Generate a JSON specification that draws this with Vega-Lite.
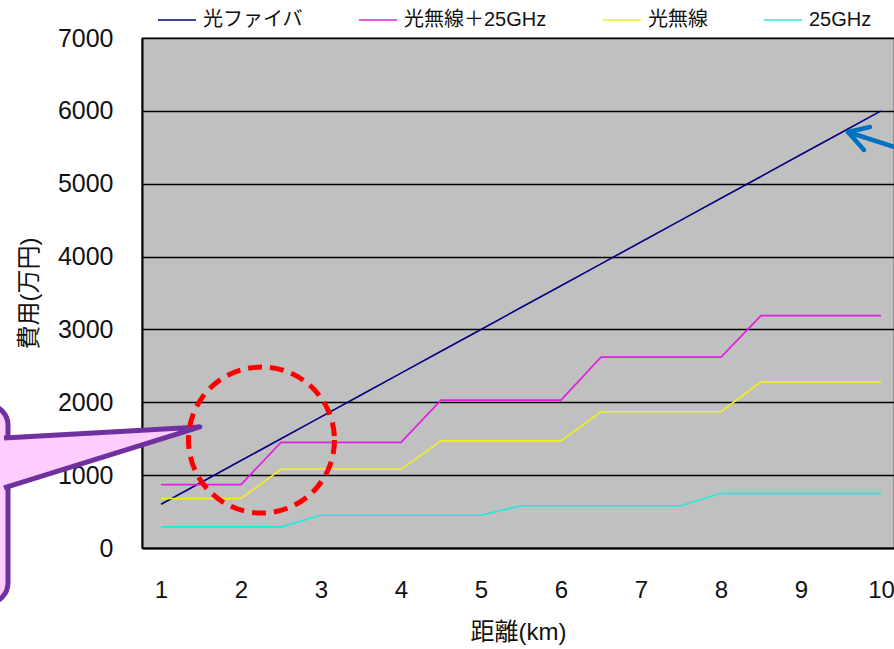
{
  "$schema": "https://vega.github.io/schema/vega-lite/v6.json",
  "width": 752,
  "height": 510,
  "autosize": {"type": "none"},
  "padding": {"left": 142, "top": 38, "right": 0, "bottom": 101},
  "background": "white",
  "config": {
    "view": {"fill": "#C0C0C0", "stroke": "#808080", "strokeWidth": 1.5},
    "font": "Liberation Sans, Noto Sans CJK JP"
  },
  "datasets": {
    "series": [
      {"d": 1, "s": "光ファイバ", "v": 600}, {"d": 1.5, "s": "光ファイバ", "v": 900}, {"d": 2, "s": "光ファイバ", "v": 1200}, {"d": 2.5, "s": "光ファイバ", "v": 1500},
      {"d": 3, "s": "光ファイバ", "v": 1800}, {"d": 3.5, "s": "光ファイバ", "v": 2100}, {"d": 4, "s": "光ファイバ", "v": 2400}, {"d": 4.5, "s": "光ファイバ", "v": 2700},
      {"d": 5, "s": "光ファイバ", "v": 3000}, {"d": 5.5, "s": "光ファイバ", "v": 3300}, {"d": 6, "s": "光ファイバ", "v": 3600}, {"d": 6.5, "s": "光ファイバ", "v": 3900},
      {"d": 7, "s": "光ファイバ", "v": 4200}, {"d": 7.5, "s": "光ファイバ", "v": 4500}, {"d": 8, "s": "光ファイバ", "v": 4800}, {"d": 8.5, "s": "光ファイバ", "v": 5100},
      {"d": 9, "s": "光ファイバ", "v": 5400}, {"d": 9.5, "s": "光ファイバ", "v": 5700}, {"d": 10, "s": "光ファイバ", "v": 6000},
      {"d": 1, "s": "光無線＋25GHz", "v": 870}, {"d": 1.5, "s": "光無線＋25GHz", "v": 870}, {"d": 2, "s": "光無線＋25GHz", "v": 870}, {"d": 2.5, "s": "光無線＋25GHz", "v": 1450},
      {"d": 3, "s": "光無線＋25GHz", "v": 1450}, {"d": 3.5, "s": "光無線＋25GHz", "v": 1450}, {"d": 4, "s": "光無線＋25GHz", "v": 1450}, {"d": 4.5, "s": "光無線＋25GHz", "v": 2030},
      {"d": 5, "s": "光無線＋25GHz", "v": 2030}, {"d": 5.5, "s": "光無線＋25GHz", "v": 2030}, {"d": 6, "s": "光無線＋25GHz", "v": 2030}, {"d": 6.5, "s": "光無線＋25GHz", "v": 2620},
      {"d": 7, "s": "光無線＋25GHz", "v": 2620}, {"d": 7.5, "s": "光無線＋25GHz", "v": 2620}, {"d": 8, "s": "光無線＋25GHz", "v": 2620}, {"d": 8.5, "s": "光無線＋25GHz", "v": 3190},
      {"d": 9, "s": "光無線＋25GHz", "v": 3190}, {"d": 9.5, "s": "光無線＋25GHz", "v": 3190}, {"d": 10, "s": "光無線＋25GHz", "v": 3190},
      {"d": 1, "s": "光無線", "v": 680}, {"d": 1.5, "s": "光無線", "v": 680}, {"d": 2, "s": "光無線", "v": 680}, {"d": 2.5, "s": "光無線", "v": 1080},
      {"d": 3, "s": "光無線", "v": 1080}, {"d": 3.5, "s": "光無線", "v": 1080}, {"d": 4, "s": "光無線", "v": 1080}, {"d": 4.5, "s": "光無線", "v": 1470},
      {"d": 5, "s": "光無線", "v": 1470}, {"d": 5.5, "s": "光無線", "v": 1470}, {"d": 6, "s": "光無線", "v": 1470}, {"d": 6.5, "s": "光無線", "v": 1870},
      {"d": 7, "s": "光無線", "v": 1870}, {"d": 7.5, "s": "光無線", "v": 1870}, {"d": 8, "s": "光無線", "v": 1870}, {"d": 8.5, "s": "光無線", "v": 2280},
      {"d": 9, "s": "光無線", "v": 2280}, {"d": 9.5, "s": "光無線", "v": 2280}, {"d": 10, "s": "光無線", "v": 2280},
      {"d": 1, "s": "25GHz", "v": 290}, {"d": 1.5, "s": "25GHz", "v": 290}, {"d": 2, "s": "25GHz", "v": 290}, {"d": 2.5, "s": "25GHz", "v": 290},
      {"d": 3, "s": "25GHz", "v": 450}, {"d": 3.5, "s": "25GHz", "v": 450}, {"d": 4, "s": "25GHz", "v": 450}, {"d": 4.5, "s": "25GHz", "v": 450},
      {"d": 5, "s": "25GHz", "v": 450}, {"d": 5.5, "s": "25GHz", "v": 580}, {"d": 6, "s": "25GHz", "v": 580}, {"d": 6.5, "s": "25GHz", "v": 580},
      {"d": 7, "s": "25GHz", "v": 580}, {"d": 7.5, "s": "25GHz", "v": 580}, {"d": 8, "s": "25GHz", "v": 750}, {"d": 8.5, "s": "25GHz", "v": 750},
      {"d": 9, "s": "25GHz", "v": 750}, {"d": 9.5, "s": "25GHz", "v": 750}, {"d": 10, "s": "25GHz", "v": 750}
    ],
    "box": [{"x1": -1.6, "x2": -0.9125, "y1": 1960, "y2": -755}],
    "pointer": [
      {"o": 1, "x": -0.9625, "y": 1510},
      {"o": 2, "x": 1.4875, "y": 1661},
      {"o": 3, "x": -0.9625, "y": 824}
    ],
    "circle": [{"x": 2.256, "y": 1482}],
    "arrow": [
      {"g": "head", "o": 1, "x": 9.8625, "y": 5778},
      {"g": "head", "o": 2, "x": 9.5875, "y": 5710},
      {"g": "head", "o": 3, "x": 9.7875, "y": 5463},
      {"g": "shaft", "o": 1, "x": 9.5875, "y": 5710},
      {"g": "shaft", "o": 2, "x": 10.3625, "y": 5435}
    ]
  },
  "layer": [
    {
      "data": {"name": "series"},
      "mark": {"type": "line", "strokeWidth": 1.6},
      "encoding": {
        "x": {
          "field": "d", "type": "quantitative", "title": "距離(km)",
          "scale": {"domain": [0.7625, 10.1625], "nice": false, "zero": false},
          "axis": {
            "values": [1, 2, 3, 4, 5, 6, 7, 8, 9, 10], "format": "d",
            "grid": false, "ticks": false, "tickSize": 0,
            "domainColor": "#000000", "domainWidth": 2,
            "labelFont": "Liberation Sans", "labelFontSize": 24, "labelColor": "#111111",
            "labelPadding": 30, "labelFlush": false, "labelOverlap": false,
            "title": "距離(km)", "titleFont": "Liberation Sans, Noto Sans CJK JP",
            "titleFontSize": 24, "titleFontWeight": "normal", "titleColor": "#111111",
            "titlePadding": 18
          }
        },
        "y": {
          "field": "v", "type": "quantitative", "title": "費用(万円)",
          "scale": {"domain": [0, 7000], "nice": false},
          "axis": {
            "values": [0, 1000, 2000, 3000, 4000, 5000, 6000, 7000], "format": "d",
            "grid": true, "gridColor": "#000000", "gridWidth": 1.5,
            "ticks": false, "tickSize": 0,
            "domainColor": "#000000", "domainWidth": 2,
            "labelFont": "Liberation Sans", "labelFontSize": 25, "labelColor": "#111111",
            "labelPadding": 29,
            "title": "費用(万円)", "titleFont": "Liberation Sans, Noto Sans CJK JP",
            "titleFontSize": 24, "titleFontWeight": "normal", "titleColor": "#111111",
            "titlePadding": 16
          }
        },
        "color": {
          "field": "s", "type": "nominal",
          "scale": {
            "domain": ["光ファイバ", "光無線＋25GHz", "光無線", "25GHz"],
            "range": ["#000080", "#E020E0", "#F0F020", "#20E8E0"]
          },
          "legend": {
            "orient": "none", "legendX": 15, "legendY": -38,
            "direction": "horizontal", "title": null,
            "symbolType": "stroke", "symbolSize": 1444, "symbolStrokeWidth": 1.6,
            "labelFont": "Liberation Sans, Noto Sans CJK JP", "labelFontSize": 20,
            "labelColor": "#111111", "labelOffset": 6, "columnPadding": 52, "labelLimit": 300
          }
        }
      }
    },
    {
      "data": {"name": "box"},
      "mark": {"type": "rect", "fill": "#FFCCFF", "stroke": "#7030A0", "strokeWidth": 5, "cornerRadius": 20},
      "encoding": {
        "x": {"field": "x1", "type": "quantitative", "title": "距離(km)"},
        "x2": {"field": "x2"},
        "y": {"field": "y1", "type": "quantitative", "title": "費用(万円)"},
        "y2": {"field": "y2"}
      }
    },
    {
      "data": {"name": "pointer"},
      "mark": {"type": "line", "fill": "#FFCCFF", "stroke": "#7030A0", "strokeWidth": 5, "strokeJoin": "round"},
      "encoding": {
        "x": {"field": "x", "type": "quantitative", "title": "距離(km)"},
        "y": {"field": "y", "type": "quantitative", "title": "費用(万円)"},
        "order": {"field": "o", "type": "quantitative"}
      }
    },
    {
      "data": {"name": "circle"},
      "mark": {"type": "point", "shape": "circle", "size": 21316, "filled": false, "stroke": "#FF0000", "strokeWidth": 5, "strokeDash": [14, 8], "opacity": 1},
      "encoding": {
        "x": {"field": "x", "type": "quantitative", "title": "距離(km)"},
        "y": {"field": "y", "type": "quantitative", "title": "費用(万円)"}
      }
    },
    {
      "data": {"name": "arrow"},
      "mark": {"type": "line", "stroke": "#0070C0", "strokeWidth": 4.5, "strokeCap": "round", "strokeJoin": "round"},
      "encoding": {
        "x": {"field": "x", "type": "quantitative", "title": "距離(km)"},
        "y": {"field": "y", "type": "quantitative", "title": "費用(万円)"},
        "detail": {"field": "g", "type": "nominal"},
        "order": {"field": "o", "type": "quantitative"}
      }
    }
  ]
}
